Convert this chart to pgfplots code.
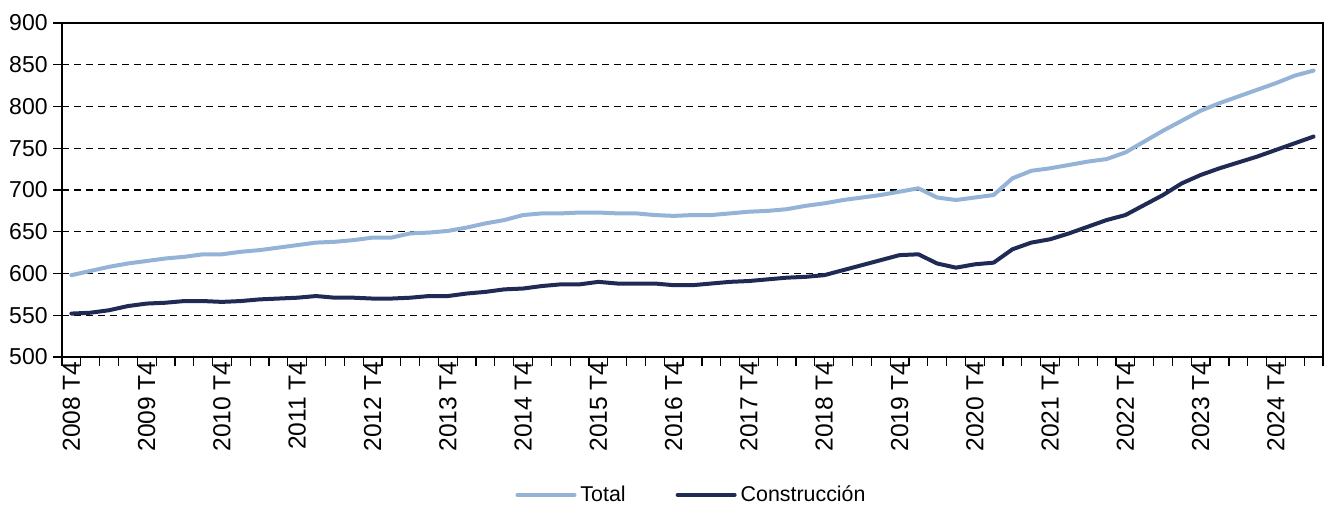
\documentclass[border=0pt]{standalone}
\usepackage{fontspec}
\setmainfont{Liberation Sans}
\usepackage{pgfplots}
\pgfplotsset{compat=1.18}
\definecolor{ctotal}{RGB}{149,179,215}
\definecolor{cconst}{RGB}{31,43,84}
\begin{document}
\begin{tikzpicture}
\begin{axis}[
  scale only axis, width=630.5pt, height=167pt,
  xmin=-0.5, xmax=66.5, ymin=500, ymax=900,
  ytick={500,550,...,900},
  xtick={-0.5,0.5,...,66.5}, xticklabels={},
  extra x ticks={0,4,...,64},
  extra x tick labels={2008 T4,2009 T4,2010 T4,2011 T4,2012 T4,2013 T4,2014 T4,2015 T4,2016 T4,2017 T4,2018 T4,2019 T4,2020 T4,2021 T4,2022 T4,2023 T4,2024 T4},
  extra x tick style={major tick length=0pt, xticklabel style={rotate=90, anchor=east, inner sep=2pt, font=\fontsize{12.3}{14}\selectfont}},
  tick align=outside, tick pos=left, major tick length=4.5pt,
  tick style={black, line width=0.6pt},
  ymajorgrids,
  grid style={black, line width=0.6pt, dash pattern=on 3.5pt off 2.5pt},
  axis line style={line width=0.8pt},
  yticklabel style={font=\fontsize{11.5}{13}\selectfont, inner sep=2.5pt},
  /pgf/number format/assume math mode=true,
  legend style={at={(0.5,-0.413)}, anchor=center, draw=none, legend columns=2,
    font=\fontsize{10.7}{12}\selectfont,
    /tikz/every even column/.append style={column sep=23pt}},
  legend image code/.code={\draw[#1, line cap=round] (0pt,0pt) -- (28.5pt,0pt);},
  every axis plot/.append style={line width=2pt, line join=round, line cap=round, mark=none},
]
\addplot[ctotal] coordinates {
(0,598)(1,603)(2,608)(3,612)(4,615)(5,618)(6,620)(7,623)(8,623)(9,626)
(10,628)(11,631)(12,634)(13,637)(14,638)(15,640)(16,643)(17,643)(18,648)(19,649)
(20,651)(21,655)(22,660)(23,664)(24,670)(25,672)(26,672)(27,673)(28,673)(29,672)
(30,672)(31,670)(32,669)(33,670)(34,670)(35,672)(36,674)(37,675)(38,677)(39,681)
(40,684)(41,688)(42,691)(43,694)(44,698)(45,702)(46,691)(47,688)(48,691)(49,694)
(50,714)(51,723)(52,726)(53,730)(54,734)(55,737)(56,745)(57,758)(58,771)(59,783)
(60,795)(61,804)(62,812)(63,820)(64,828)(65,837)(66,843)
};
\addlegendentry{Total}
\addplot[cconst] coordinates {
(0,552)(1,553)(2,556)(3,561)(4,564)(5,565)(6,567)(7,567)(8,566)(9,567)
(10,569)(11,570)(12,571)(13,573)(14,571)(15,571)(16,570)(17,570)(18,571)(19,573)
(20,573)(21,576)(22,578)(23,581)(24,582)(25,585)(26,587)(27,587)(28,590)(29,588)
(30,588)(31,588)(32,586)(33,586)(34,588)(35,590)(36,591)(37,593)(38,595)(39,596)
(40,598)(41,604)(42,610)(43,616)(44,622)(45,623)(46,612)(47,607)(48,611)(49,613)
(50,629)(51,637)(52,641)(53,648)(54,656)(55,664)(56,670)(57,682)(58,694)(59,708)
(60,718)(61,726)(62,733)(63,740)(64,748)(65,756)(66,764)
};
\addlegendentry{Construcción}
\end{axis}
\path ([shift={(-31pt,-74.5pt)}]current axis.south west) rectangle ([shift={(3.5pt,11.5pt)}]current axis.north east);
\end{tikzpicture}
\end{document}
